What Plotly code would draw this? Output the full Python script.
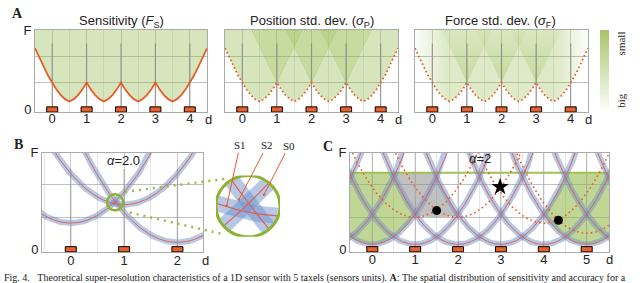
import plotly.graph_objects as go
import numpy as np

W, H = 640, 283
def px(x): return x / W
def py(y): return 1 - y / H

# ---------------- data ----------------
taxels_A = [0, 1, 2, 3, 4]
taxels_B = [0, 1, 2]
taxels_C = [0, 1, 2, 3, 4, 5]

# sensitivity curve (panel A), sampled every 1/8 unit from -0.5 to 4.5
sens_d = [-0.5 + 0.125 * i for i in range(41)]
sens_F = [0.77, 0.65, 0.54, 0.43, 0.34,
          0.25, 0.18, 0.13, 0.10, 0.13, 0.18, 0.25, 0.34,
          0.25, 0.18, 0.13, 0.10, 0.13, 0.18, 0.25, 0.34,
          0.25, 0.18, 0.13, 0.10, 0.13, 0.18, 0.25, 0.34,
          0.25, 0.18, 0.13, 0.10, 0.13, 0.18, 0.25, 0.34,
          0.43, 0.54, 0.65, 0.77]
cone_taxels = [1, 2, 3]
cone_apex_F = 0.34
cone_halfwidth_top = 0.73
taxel_line_top = 0.83

# panel B : parabolas of the three taxel signals
B_names = ["S0", "S1", "S2"]
B_center = [0, 1, 2]
B_vertex = [0.27, 0.46, 0.07]
B_curv = [0.32, 0.32, 0.31]
B_cross = (0.83, 0.485)
alpha_B = "2.0"

# panel C
C_band_center = [-2, -1, 0, 1, 2, 3, 4, 5, 6, 7]
C_band_vertex = 0.05
C_curv = 0.31
C_dot_center = [1, 2, 4, 5]
C_dot_vertex = [0.33, 0.33, 0.27, 0.165]
C_level = 0.79
C_gray_bottom_d = [1.0, 1.25, 1.5, 1.75, 2.0]
C_gray_bottom_F = [0.35, 0.335, 0.33, 0.335, 0.35]
C_points_d = [1.5, 4.34]
C_points_F = [0.40, 0.30]
C_star = (2.98, 0.645)
alpha_C = "2"

# ---------------- styles ----------------
ORANGE = "rgb(232,92,40)"
RED = "rgb(222,95,75)"
GREEN_RGB = "145,185,70"
BAND = "rgba(110,145,205,0.5)"
CIRC_GREEN = "rgb(140,180,50)"
FONT = "Liberation Sans"
SERIF = "Liberation Serif"

fig = go.Figure()

def parab(d, c0, v, k):
    d = np.asarray(d, dtype=float)
    return v + k * (d - c0) ** 2

# ---------------- panel A ----------------
axA = [("x", "y"), ("x2", "y2"), ("x3", "y3")]
for ai, (xa, ya) in enumerate(axA):
    bx = list(sens_d) + [sens_d[-1], sens_d[0]]
    by = list(sens_F) + [1.0, 1.0]
    if ai == 2:
        fig.add_trace(go.Scatter(x=bx, y=by, xaxis=xa, yaxis=ya, fill="toself",
                                 mode="lines", line=dict(width=0),
                                 fillgradient=dict(type="horizontal", colorscale=[
                                     [0, f"rgba({GREEN_RGB},0.03)"], [0.18, f"rgba({GREEN_RGB},0.30)"],
                                     [0.82, f"rgba({GREEN_RGB},0.30)"], [1, f"rgba({GREEN_RGB},0.03)"]]),
                                 hoverinfo="skip", showlegend=False))
    else:
        fig.add_trace(go.Scatter(x=bx, y=by, xaxis=xa, yaxis=ya, fill="toself",
                                 fillcolor=f"rgba({GREEN_RGB},0.37)", mode="lines",
                                 line=dict(width=0), hoverinfo="skip", showlegend=False))
    if ai >= 1:
        for t in cone_taxels:
            cx = [t, t - cone_halfwidth_top, t + cone_halfwidth_top, t]
            cy = [cone_apex_F, 1.0, 1.0, cone_apex_F]
            if ai == 1:
                fig.add_trace(go.Scatter(x=cx, y=cy, xaxis=xa, yaxis=ya, fill="toself",
                                         fillcolor=f"rgba({GREEN_RGB},0.22)", mode="lines",
                                         line=dict(width=0.6, color=f"rgba({GREEN_RGB},0.35)"),
                                         hoverinfo="skip", showlegend=False))
            else:
                fig.add_trace(go.Scatter(x=cx, y=cy, xaxis=xa, yaxis=ya, fill="toself",
                                         fillgradient=dict(type="vertical", colorscale=[
                                             [0, f"rgba({GREEN_RGB},0.32)"], [1, f"rgba({GREEN_RGB},0.06)"]]),
                                         mode="lines", line=dict(width=0),
                                         hoverinfo="skip", showlegend=False))
    for t in taxels_A:
        fig.add_trace(go.Scatter(x=[t, t], y=[0, taxel_line_top], xaxis=xa, yaxis=ya,
                                 mode="lines", line=dict(color="rgba(130,130,130,0.7)", width=1.2),
                                 hoverinfo="skip", showlegend=False))
    if ai == 0:
        fig.add_trace(go.Scatter(x=sens_d, y=sens_F, xaxis=xa, yaxis=ya, mode="lines",
                                 line=dict(color=ORANGE, width=1.8), hoverinfo="skip", showlegend=False))
    else:
        fig.add_trace(go.Scatter(x=sens_d, y=sens_F, xaxis=xa, yaxis=ya, mode="lines",
                                 line=dict(color=ORANGE, width=1.8, dash="1.6px,2.6px"),
                                 hoverinfo="skip", showlegend=False))

# ---------------- panel B ----------------
dB = np.linspace(-0.7, 2.7, 400)
for c0, v, k in zip(B_center, B_vertex, B_curv):
    fig.add_trace(go.Scatter(x=dB, y=parab(dB, c0, v, k), xaxis="x4", yaxis="y4", mode="lines",
                             line=dict(color=BAND, width=6), hoverinfo="skip", showlegend=False))
for c0, v, k in zip(B_center, B_vertex, B_curv):
    fig.add_trace(go.Scatter(x=dB, y=parab(dB, c0, v, k), xaxis="x4", yaxis="y4", mode="lines",
                             line=dict(color=RED, width=0.9), hoverinfo="skip", showlegend=False))
for t in taxels_B:
    fig.add_trace(go.Scatter(x=[t, t], y=[0, taxel_line_top], xaxis="x4", yaxis="y4", mode="lines",
                             line=dict(color="rgba(150,150,150,0.7)", width=1.2),
                             hoverinfo="skip", showlegend=False))

# inset (magnified view of the crossing)
B_x0, B_x1, B_y0, B_y1 = 42, 203, 152, 256
B_xr = (-0.54, 2.48)
B_yr = (-0.03, 1.0)
sx = (B_x1 - B_x0) / (B_xr[1] - B_xr[0])
sy = (B_y1 - B_y0) / (B_yr[1] - B_yr[0])
R_small = 8
R_big = 32
M = R_big / R_small
hx = R_big / (M * sx)
hy = R_big / (M * sy)
dI = np.linspace(B_cross[0] - hx, B_cross[0] + hx, 600)
for layer in ("band", "line"):
    for c0, v, k in zip(B_center, B_vertex, B_curv):
        fI = parab(dI, c0, v, k)
        rx = (dI - B_cross[0]) * sx * M
        ry = (fI - B_cross[1]) * sy * M
        inside = np.sqrt(rx ** 2 + ry ** 2) <= R_big - 1
        yy = np.where(inside, fI, np.nan)
        if layer == "band":
            fig.add_trace(go.Scatter(x=dI, y=yy, xaxis="x5", yaxis="y5", mode="lines",
                                     line=dict(color="rgba(110,145,205,0.5)", width=16),
                                     hoverinfo="skip", showlegend=False))
        else:
            fig.add_trace(go.Scatter(x=dI, y=yy, xaxis="x5", yaxis="y5", mode="lines",
                                     line=dict(color=RED, width=1.1),
                                     hoverinfo="skip", showlegend=False))

# ---------------- panel C ----------------
dC = np.linspace(-0.6, 5.6, 700)
P = {k: parab(dC, k, C_band_vertex, C_curv) for k in C_band_center}
mL = dC <= 1.0
topL = np.minimum(P[2][mL], C_level)
fig.add_trace(go.Scatter(x=np.concatenate([dC[mL], dC[mL][::-1]]),
                         y=np.concatenate([topL, P[0][mL][::-1]]),
                         xaxis="x6", yaxis="y6", fill="toself", fillcolor="rgba(140,180,60,0.55)",
                         mode="lines", line=dict(width=0), hoverinfo="skip", showlegend=False))
mR = dC >= 4.0
topR = np.minimum(P[3][mR], C_level)
fig.add_trace(go.Scatter(x=np.concatenate([dC[mR], dC[mR][::-1]]),
                         y=np.concatenate([topR, P[5][mR][::-1]]),
                         xaxis="x6", yaxis="y6", fill="toself", fillcolor="rgba(140,180,60,0.55)",
                         mode="lines", line=dict(width=0), hoverinfo="skip", showlegend=False))
gpoly_x, gpoly_y = [], []
for dd in dC[(dC >= 0.3) & (dC <= 2.0)]:
    top = min(C_level, float(parab(dd, 3, C_band_vertex, C_curv)))
    left = float(parab(dd, 2, C_band_vertex, C_curv))
    if dd > 1.0 or left <= C_level:
        gpoly_x.append(dd); gpoly_y.append(top)
gpoly_x += C_gray_bottom_d[::-1]
gpoly_y += C_gray_bottom_F[::-1]
for dd in dC[(dC >= 0.3) & (dC <= 1.0)][::-1]:
    left = float(parab(dd, 2, C_band_vertex, C_curv))
    if left <= C_level:
        gpoly_x.append(dd); gpoly_y.append(left)
fig.add_trace(go.Scatter(x=gpoly_x, y=gpoly_y, xaxis="x6", yaxis="y6", fill="toself",
                         fillcolor="rgba(140,140,140,0.55)", mode="lines", line=dict(width=0),
                         hoverinfo="skip", showlegend=False))
fig.add_trace(go.Scatter(x=[-0.6, 5.6], y=[C_level, C_level], xaxis="x6", yaxis="y6", mode="lines",
                         line=dict(color="rgb(160,195,80)", width=2), hoverinfo="skip", showlegend=False))
for t in taxels_C:
    fig.add_trace(go.Scatter(x=[t, t], y=[0, 1], xaxis="x6", yaxis="y6", mode="lines",
                             line=dict(color="rgba(170,170,170,0.6)", width=1),
                             hoverinfo="skip", showlegend=False))
for k in C_band_center:
    fig.add_trace(go.Scatter(x=dC, y=P[k], xaxis="x6", yaxis="y6", mode="lines",
                             line=dict(color=BAND, width=6), hoverinfo="skip", showlegend=False))
for k in C_band_center:
    fig.add_trace(go.Scatter(x=dC, y=P[k], xaxis="x6", yaxis="y6", mode="lines",
                             line=dict(color=RED, width=0.9), hoverinfo="skip", showlegend=False))
for c0, v in zip(C_dot_center, C_dot_vertex):
    fig.add_trace(go.Scatter(x=dC, y=parab(dC, c0, v, C_curv), xaxis="x6", yaxis="y6", mode="lines",
                             line=dict(color=ORANGE, width=1.6, dash="1.6px,3px"),
                             hoverinfo="skip", showlegend=False))
fig.add_trace(go.Scatter(x=C_points_d, y=C_points_F, xaxis="x6", yaxis="y6", mode="markers",
                         marker=dict(color="black", size=9), hoverinfo="skip", showlegend=False))
fig.add_trace(go.Scatter(x=[C_star[0]], y=[C_star[1]], xaxis="x6", yaxis="y6", mode="markers",
                         marker=dict(color="black", size=13, symbol="star"),
                         hoverinfo="skip", showlegend=False))

# colour bar (small -> big)
fig.add_trace(go.Scatter(x=[0], y=[5], xaxis="x", yaxis="y", mode="markers",
                         marker=dict(color=[0], opacity=0, cmin=0, cmax=1, showscale=True,
                                     colorscale=[[0, "rgb(252,253,248)"], [1, "rgb(168,197,105)"]],
                                     colorbar=dict(x=px(600), xanchor="left", y=py(66), yanchor="middle",
                                                   len=84 / H, lenmode="fraction", thickness=9,
                                                   thicknessmode="pixels", outlinewidth=0,
                                                   showticklabels=False, ticks="", xpad=0, ypad=0)),
                         hoverinfo="skip", showlegend=False))

# ---------------- axes ----------------
tickfont = dict(family=FONT, size=13, color="#222")
def xax(dom, rng, tv, standoff):
    return dict(domain=[px(dom[0]), px(dom[1])], range=rng, tickvals=tv, ticktext=[str(v) for v in tv],
                showgrid=True, gridcolor="rgba(170,170,170,0.45)", gridwidth=1,
                minor=dict(dtick=0.5, tick0=0.5, showgrid=True, gridcolor="rgba(170,170,170,0.3)"),
                zeroline=False, showline=True, linecolor="#aaa", linewidth=1, mirror=True,
                ticks="", tickfont=tickfont, fixedrange=True, ticklabelstandoff=standoff)
def yax(dom, rng, anchor, labels=True):
    return dict(domain=[py(dom[1]), py(dom[0])], range=rng, tickvals=[0, 1],
                ticktext=["0", "F"], showticklabels=labels,
                showgrid=False, zeroline=False, showline=True, linecolor="#aaa", linewidth=1, mirror=True,
                ticks="", tickfont=tickfont, anchor=anchor, fixedrange=True,
                minor=dict(tickvals=[1 / 3, 2 / 3], showgrid=True,
                           gridcolor="rgba(150,150,150,0.6)", gridwidth=1))

yA = [-0.036, 1.0]
fig.update_layout(
    xaxis=dict(xax((35, 207), [-0.5, 4.5], taxels_A, -6), anchor="y"),
    yaxis=yax((24, 110), yA, "x"),
    xaxis2=dict(xax((225, 398), [-0.5, 4.5], taxels_A, -6), anchor="y2"),
    yaxis2=yax((24, 110), yA, "x2", labels=False),
    xaxis3=dict(xax((415, 588), [-0.5, 4.5], taxels_A, -6), anchor="y3"),
    yaxis3=yax((24, 110), yA, "x3", labels=False),
    xaxis4=dict(xax((B_x0, B_x1), list(B_xr), taxels_B, -4), anchor="y4"),
    yaxis4=yax((B_y0, B_y1), list(B_yr), "x4"),
    xaxis5=dict(domain=[px(248 - 32), px(248 + 32)], range=[B_cross[0] - hx, B_cross[0] + hx],
                visible=False, anchor="y5", fixedrange=True),
    yaxis5=dict(domain=[py(208 + 32), py(208 - 32)], range=[B_cross[1] - hy, B_cross[1] + hy],
                visible=False, anchor="x5", fixedrange=True),
    xaxis6=dict(xax((350, 609), [-0.52, 5.52], taxels_C, -5), anchor="y6"),
    yaxis6=yax((152, 256), [-0.03, 1.0], "x6"),
)

# ---------------- shapes ----------------
shapes = []
for xa, ya, tx in [("x", "y", taxels_A), ("x2", "y2", taxels_A), ("x3", "y3", taxels_A),
                   ("x4", "y4", taxels_B), ("x6", "y6", taxels_C)]:
    for t in tx:
        shapes.append(dict(type="rect", xref=xa, yref=ya, xsizemode="pixel", ysizemode="pixel",
                           xanchor=t, yanchor=0, x0=-5.5, x1=5.5, y0=-2.6, y1=2.6,
                           fillcolor="rgb(232,96,44)", line=dict(color="black", width=1), layer="above"))
shapes.append(dict(type="circle", xref="x4", yref="y4", xsizemode="pixel", ysizemode="pixel",
                   xanchor=B_cross[0], yanchor=B_cross[1], x0=-R_small, x1=R_small, y0=-R_small, y1=R_small,
                   line=dict(color=CIRC_GREEN, width=2.5), layer="above"))
shapes.append(dict(type="circle", xref="x5", yref="y5",
                   x0=B_cross[0] - hx, x1=B_cross[0] + hx, y0=B_cross[1] - hy, y1=B_cross[1] + hy,
                   line=dict(color=CIRC_GREEN, width=3), layer="above"))
for (xa0, ya0, xa1, ya1) in [(125, 193, 229, 179), (123, 213, 222, 237)]:
    shapes.append(dict(type="line", xref="paper", yref="paper", x0=px(xa0), y0=py(ya0), x1=px(xa1), y1=py(ya1),
                       line=dict(color="rgb(150,190,60)", width=2.5, dash="2px,5px")))
fig.update_layout(shapes=shapes)

# ---------------- annotations ----------------
ann = []
def txt(x, y, s, size=13, family=FONT, **kw):
    d = dict(xref="paper", yref="paper", x=px(x), y=py(y), text=s, showarrow=False,
             font=dict(family=family, size=size, color="#222"), xanchor="center", yanchor="middle")
    d.update(kw)
    ann.append(d)

txt(121, 15, "Sensitivity (<i>F</i><sub>S</sub>)")
txt(312, 15, "Position std. dev. (<i>σ</i><sub>P</sub>)")
txt(500, 15, "Force std. dev. (<i>σ</i><sub>F</sub>)")
for xd, yd in [(208, 117), (398, 117), (588, 117), (205, 265), (609, 264)]:
    txt(xd, yd, "d")
txt(17, 7, "<b>A</b>", size=14, family=SERIF)
txt(18, 144, "<b>B</b>", size=14, family=SERIF)
txt(328, 146, "<b>C</b>", size=14, family=SERIF)
txt(123, 160, "<i>α</i>=" + alpha_B, size=13)
txt(480, 158, "<i>α</i>=" + alpha_C, size=13)
txt(621, 38, "small", size=11, family=SERIF, textangle=-90)
txt(621, 98, "big", size=11, family=SERIF, textangle=-90)

for name, (tx_, ty_), (ex, ey) in [("S1", (240, 147), (226.7, 207.5)),
                                   ("S2", (267, 147), (239, 201)),
                                   ("S0", (289, 147), (264, 196))]:
    ann.append(dict(xref="paper", yref="paper", x=px(ex), y=py(ey), ax=tx_ - ex, ay=ty_ - ey,
                    text=name, showarrow=True, arrowhead=6, arrowsize=0.6,
                    arrowwidth=1, arrowcolor=ORANGE, font=dict(family=SERIF, size=11, color="#222")))

ann.append(dict(xref="paper", yref="paper", x=px(2), y=py(275), xanchor="left", yanchor="top",
                showarrow=False, align="left",
                text="Fig. 4.&nbsp;&nbsp;&nbsp;Theoretical super-resolution characteristics of a 1D sensor with 5 taxels "
                     "(sensors units). <b>A</b>: The spatial distribution of sensitivity and accuracy for a",
                font=dict(family=SERIF, size=10, color="#222")))
fig.update_layout(annotations=ann)

fig.update_layout(width=W, height=H, margin=dict(l=0, r=0, t=0, b=0),
                  paper_bgcolor="white", plot_bgcolor="rgba(0,0,0,0)", showlegend=False)
fig.write_html("out.html", config={"displayModeBar": False},
               post_script="document.body.style.margin='0px';")
